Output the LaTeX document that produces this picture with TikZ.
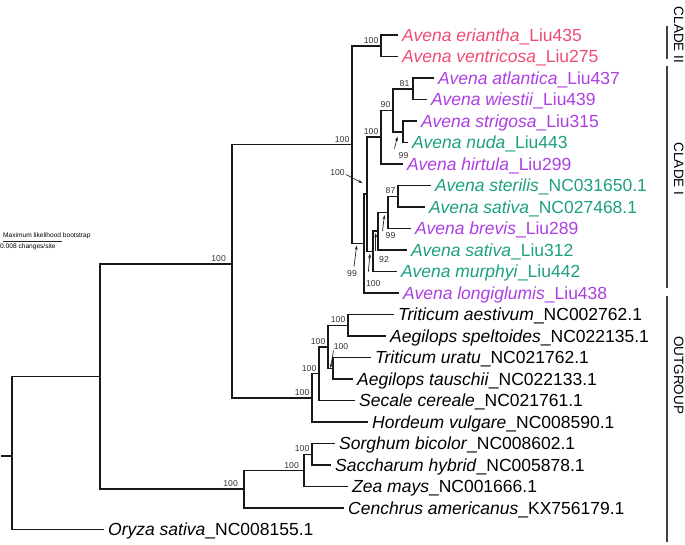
\documentclass[tikz,border=0pt]{standalone}
\usepackage{fontspec}
\setmainfont{Liberation Sans}
\usetikzlibrary{arrows.meta}
\definecolor{cpink}{RGB}{240,75,115}
\definecolor{cpurple}{RGB}{172,62,226}
\definecolor{cgreen}{RGB}{28,160,128}
\definecolor{cline}{RGB}{25,25,25}
\begin{document}
\begin{tikzpicture}[x=1pt,y=-1pt,
  br/.style={draw=cline,line width=1.5pt},
  tip/.style={anchor=west,inner xsep=4pt,inner ysep=0pt,font=\fontsize{17.5}{18}\selectfont,text height=12.5pt,text depth=0pt},
  bs/.style={anchor=south east,inner sep=0pt,font=\fontsize{8.6}{9}\selectfont,text=black!80},
  arl/.style={inner sep=0pt,font=\fontsize{8.6}{9}\selectfont,text=black!80},
  arr/.style={-{Stealth[length=4.5pt,width=3pt]},line width=0.7pt,draw=black!85},
  bar/.style={line width=2.6pt,draw=black!75},
  cl/.style={rotate=-90,inner sep=0pt,font=\fontsize{13.5}{14}\selectfont,text height=9.7pt,text depth=0pt},
  sc/.style={anchor=base west,inner sep=0pt,font=\fontsize{6.6}{7}\selectfont}
]
\useasboundingbox (0,0) rectangle (685,544);
% internal nodes
\coordinate (C2) at (381,45.75);
\coordinate (n81) at (413,88.75);
\coordinate (n99a) at (403,131.75);
\coordinate (n90) at (393,110.25);
\coordinate (nH) at (381,137.1);
\coordinate (n87) at (398,196.25);
\coordinate (n99b) at (388,212.4);
\coordinate (n92) at (378,231.2);
\coordinate (n100m) at (373,251.3);
\coordinate (nHS) at (367,194.2);
\coordinate (C1) at (364,243.6);
\coordinate (Av) at (352,144.7);
\coordinate (nAS) at (348,325.25);
\coordinate (nUT) at (333,368.25);
\coordinate (nW) at (328,346.75);
\coordinate (nSec) at (319,373.6);
\coordinate (nHor) at (312,397.8);
\coordinate (Q) at (232,264);
\coordinate (SS) at (312,454.25);
\coordinate (SSZ) at (304,470.4);
\coordinate (Pan) at (244,489.2);
\coordinate (P) at (100,376.6);
\coordinate (Rt) at (12,456);
\coordinate (R0) at (1,456);
% tips
\node[tip,text=cpink] (t0) at (398,35) {\textit{Avena eriantha}\_Liu435};
\node[tip,text=cpink] (t1) at (398,56.5) {\textit{Avena ventricosa}\_Liu275};
\node[tip,text=cpurple] (t2) at (434,78) {\textit{Avena atlantica}\_Liu437};
\node[tip,text=cpurple] (t3) at (427,99.5) {\textit{Avena wiestii}\_Liu439};
\node[tip,text=cpurple] (t4) at (417,121) {\textit{Avena strigosa}\_Liu315};
\node[tip,text=cgreen] (t5) at (408,142.5) {\textit{Avena nuda}\_Liu443};
\node[tip,text=cpurple] (t6) at (403,164) {\textit{Avena hirtula}\_Liu299};
\node[tip,text=cgreen] (t7) at (431,185.5) {\textit{Avena sterilis}\_NC031650.1};
\node[tip,text=cgreen] (t8) at (425,207) {\textit{Avena sativa}\_NC027468.1};
\node[tip,text=cpurple] (t9) at (411,228.5) {\textit{Avena brevis}\_Liu289};
\node[tip,text=cgreen] (t10) at (407,250) {\textit{Avena sativa}\_Liu312};
\node[tip,text=cgreen] (t11) at (397,271.5) {\textit{Avena murphyi}\_Liu442};
\node[tip,text=cpurple] (t12) at (399,293) {\textit{Avena longiglumis}\_Liu438};
\node[tip] (t13) at (394,314.5) {\textit{Triticum aestivum}\_NC002762.1};
\node[tip] (t14) at (386,336) {\textit{Aegilops speltoides}\_NC022135.1};
\node[tip] (t15) at (371,357.5) {\textit{Triticum uratu}\_NC021762.1};
\node[tip] (t16) at (353,379) {\textit{Aegilops tauschii}\_NC022133.1};
\node[tip] (t17) at (355,400.5) {\textit{Secale cereale}\_NC021761.1};
\node[tip] (t18) at (368,422) {\textit{Hordeum vulgare}\_NC008590.1};
\node[tip] (t19) at (335,443.5) {\textit{Sorghum bicolor}\_NC008602.1};
\node[tip] (t20) at (331,465) {\textit{Saccharum hybrid}\_NC005878.1};
\node[tip] (t21) at (348,486.5) {\textit{Zea mays}\_NC001666.1};
\node[tip] (t22) at (344,508) {\textit{Cenchrus americanus}\_KX756179.1};
\node[tip] (t23) at (104,529.5) {\textit{Oryza sativa}\_NC008155.1};
% branches
\draw[br] (t0.west) -| (C2) |- (t1.west);
\draw[br] (t2.west) -| (n81) |- (t3.west);
\draw[br] (t4.west) -| (n99a) |- (t5.west);
\draw[br] (n81) -| (n90) |- (n99a);
\draw[br] (n90) -| (nH) |- (t6.west);
\draw[br] (t7.west) -| (n87) |- (t8.west);
\draw[br] (n87) -| (n99b) |- (t9.west);
\draw[br] (n99b) -| (n92) |- (t10.west);
\draw[br] (n92) -| (n100m) |- (t11.west);
\draw[br] (nH) -| (nHS) |- (n100m);
\draw[br] (nHS) -| (C1) |- (t12.west);
\draw[br] (C2) -| (Av) |- (C1);
\draw[br] (t13.west) -| (nAS) |- (t14.west);
\draw[br] (t15.west) -| (nUT) |- (t16.west);
\draw[br] (nAS) -| (nW) |- (nUT);
\draw[br] (nW) -| (nSec) |- (t17.west);
\draw[br] (nSec) -| (nHor) |- (t18.west);
\draw[br] (Av) -| (Q) |- (nHor);
\draw[br] (t19.west) -| (SS) |- (t20.west);
\draw[br] (SS) -| (SSZ) |- (t21.west);
\draw[br] (SSZ) -| (Pan) |- (t22.west);
\draw[br] (Q) -| (P) |- (Pan);
\draw[br] (P) -| (Rt) |- (t23.west);
\draw[br] (R0) -- (Rt);
% bootstrap labels
\node[bs] at ([shift={(-2.5,-2)}]C2) {100};
\node[bs] at ([shift={(-3.5,-2)}]n81) {81};
\node[bs] at ([shift={(-2.5,-2)}]n90) {90};
\node[bs] at ([shift={(-2.5,-2)}]nH) {100};
\node[bs] at ([shift={(-2.5,-2)}]n87) {87};
\node[bs] at ([shift={(-2.5,-2)}]Av) {100};
\node[bs] at ([shift={(-6,-2.5)}]Q) {100};
\node[bs] at ([shift={(-2.5,-2)}]nAS) {100};
\node[bs] at ([shift={(-2.5,-2)}]nW) {100};
\node[bs] at ([shift={(-2.5,-2)}]nSec) {100};
\node[bs] at ([shift={(-2.5,-2)}]nHor) {100};
\node[bs] at ([shift={(-2.5,-2)}]SS) {100};
\node[bs] at ([shift={(-5,-2)}]SSZ) {100};
\node[bs] at ([shift={(-6,-2)}]Pan) {100};
% arrowed labels
\node[arl] (l99a) at (403.5,156) {99};
\coordinate (h99a) at (397.5,136.5);
\draw[arr] (394.5,148.5) -- (h99a);
\node[arl] (l100hs) at (337.5,173) {100};
\coordinate (h100hs) at (362.5,183);
\draw[arr] (l100hs.east) ++(1,1.5) -- (h100hs);
\node[arl] (l99b) at (390.5,236) {99};
\coordinate (h99b) at (384.5,215);
\draw[arr] (382.5,231) -- (h99b);
\node[arl] (l92) at (384,260) {92};
\coordinate (h92) at (375.7,233);
\draw[arr] (375.7,251) -- (h92);
\node[arl] (l100m) at (373.3,284) {100};
\coordinate (h100m) at (370,253.5);
\draw[arr] (368.3,272) -- (h100m);
\node[arl] (l99c) at (352,273.5) {99};
\coordinate (h99c) at (356.7,245.5);
\draw[arr] (354,266.5) -- (h99c);
\node[arl] (l100ut) at (341,346.7) {100};
\coordinate (h100ut) at (330.5,368);
\draw[arr] (333.5,350.5) -- (h100ut);
% scale bar
\node[sc] (sct) at (3,237.5) {Maximum likelihood bootstrap};
\coordinate (sb0) at (3,241);
\coordinate (sb1) at (62,241);
\draw[line width=0.9pt,black!85] (sb0) -- (sb1);
\node[sc] (scu) at (0,248.5) {0.008 changes/site};
% clade bars
\coordinate (b1a) at (667,26); \coordinate (b1b) at (667,59);
\coordinate (b2a) at (667,66); \coordinate (b2b) at (667,288);
\coordinate (b3a) at (667,296); \coordinate (b3b) at (667,542);
\draw[bar] (b1a) -- (b1b);
\draw[bar] (b2a) -- (b2b);
\draw[bar] (b3a) -- (b3b);
\node[cl] (cII) at (679,35) {CLADE II};
\node[cl] (cI) at (679,169) {CLADE I};
\node[cl] (cO) at (679,375) {OUTGROUP};
\end{tikzpicture}
\end{document}
